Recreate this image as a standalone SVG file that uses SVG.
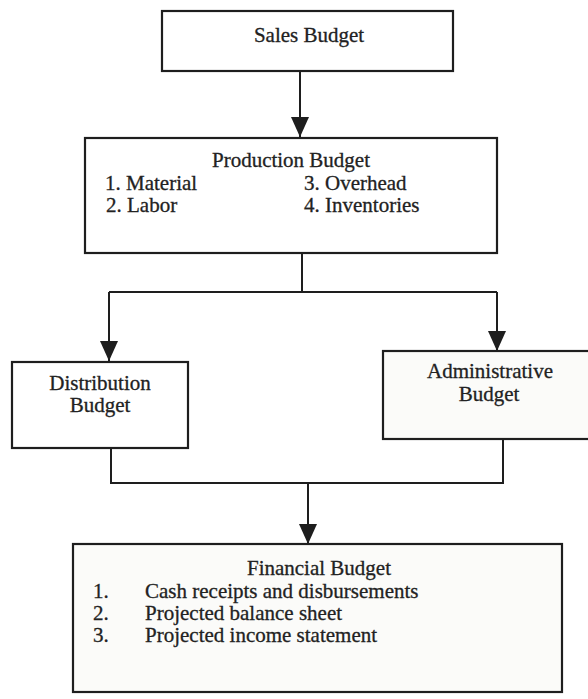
<svg xmlns="http://www.w3.org/2000/svg" width="588" height="699" viewBox="0 0 588 699">
  <style>
    .box { fill: #ffffff; stroke: #1e1e1e; stroke-width: 2.2; }
    .shaded { fill: #fbfbf9; stroke: #1e1e1e; stroke-width: 2.2; }
    .t { font-family: "Liberation Serif", "Times New Roman", serif; font-size: 21px; fill: #222; stroke: #222; stroke-width: 0.3; }
    .c { text-anchor: middle; }
    .line { fill: none; stroke: #1e1e1e; stroke-width: 2; }
  </style>
  <defs>
    <marker id="arrow" markerUnits="userSpaceOnUse" markerWidth="20" markerHeight="18" viewBox="0 0 20 18" refX="20" refY="9" orient="auto">
      <path d="M0,0 L20,9 L0,18 z" fill="#1e1e1e"/>
    </marker>
  </defs>
  <rect width="588" height="699" fill="#ffffff"/>

  <g id="connectors">
    <line class="line" x1="300" y1="71" x2="300" y2="137" marker-end="url(#arrow)"/>
    <polyline class="line" points="302,253 302,292"/>
    <polyline class="line" points="109,292 497,292"/>
    <line class="line" x1="109" y1="292" x2="109" y2="361" marker-end="url(#arrow)"/>
    <line class="line" x1="497" y1="292" x2="497" y2="351" marker-end="url(#arrow)"/>
    <polyline class="line" points="111,448 111,483 503,483 503,439"/>
    <line class="line" x1="308" y1="483" x2="308" y2="544" marker-end="url(#arrow)"/>
  </g>

  <g id="sales-budget">
    <rect class="box" x="162" y="11" width="291" height="60"/>
    <text class="t c" x="309" y="42">Sales Budget</text>
  </g>

  <g id="production-budget">
    <rect class="box" x="85" y="138" width="412" height="115"/>
    <text class="t c" x="291" y="167">Production Budget</text>
    <text class="t" x="105" y="190">1. Material</text>
    <text class="t" x="106" y="212">2. Labor</text>
    <text class="t" x="304" y="190">3. Overhead</text>
    <text class="t" x="304" y="212">4. Inventories</text>
  </g>

  <g id="distribution-budget">
    <rect class="box" x="12" y="362" width="176" height="86"/>
    <text class="t c" x="100" y="390">Distribution</text>
    <text class="t c" x="100" y="412">Budget</text>
  </g>

  <g id="administrative-budget">
    <rect class="shaded" x="383" y="351" width="215" height="88"/>
    <text class="t c" x="490" y="378">Administrative</text>
    <text class="t c" x="489" y="401">Budget</text>
  </g>

  <g id="financial-budget">
    <rect class="shaded" x="73" y="544" width="489" height="148"/>
    <text class="t c" x="319" y="575">Financial Budget</text>
    <text class="t" x="93" y="598">1.</text>
    <text class="t" x="145" y="598">Cash receipts and disbursements</text>
    <text class="t" x="93" y="620">2.</text>
    <text class="t" x="145" y="620">Projected balance sheet</text>
    <text class="t" x="93" y="642">3.</text>
    <text class="t" x="145" y="642">Projected income statement</text>
  </g>
</svg>
